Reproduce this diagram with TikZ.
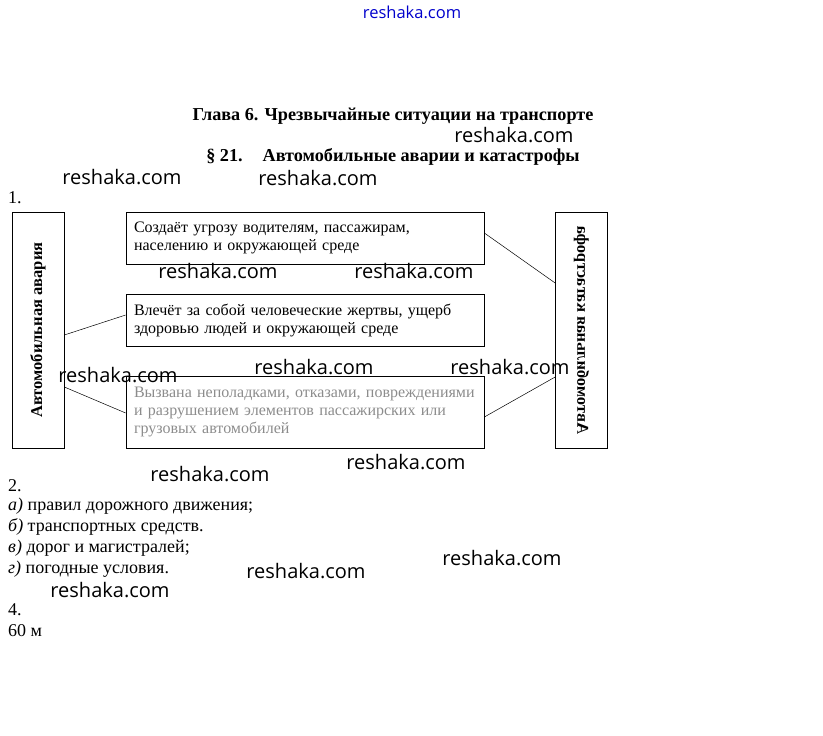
\documentclass[tikz,border=0pt]{standalone}
\usepackage{fontspec}
\setmainfont{Liberation Serif}
\newfontfamily\wmfont{Open Sans}
\usepackage{tikz}

\begin{document}
\begin{tikzpicture}[x=1pt,y=-1pt,
		textbox/.style={draw, line width=0.7pt, minimum width=358pt, text width=342pt, inner xsep=8pt, align=left, font=\fontsize{16}{18}\selectfont},
		sidebox/.style={draw, line width=0.7pt, minimum width=236pt, minimum height=52pt, inner sep=0pt, font=\fontsize{16.5}{20}\selectfont\bfseries},
		plain/.style={anchor=west, inner sep=0pt, font=\fontsize{18}{21}\selectfont},
		wm/.style={inner sep=0pt, font=\wmfont\fontsize{20}{24}\selectfont},
		link/.style={line width=0.5pt}]
		\useasboundingbox (0,0) rectangle (823,736);
		
		\node[inner sep=0pt, text=blue!80!black, font=\wmfont\fontsize{16.5}{18}\selectfont] (site) at (412,12) {reshaka.com};
		\node[inner sep=0pt, font=\fontsize{18.2}{20}\selectfont\bfseries] (glava) at (393,116) {Глава 6. Чрезвычайные ситуации на транспорте};
		\node[inner sep=0pt, font=\fontsize{18.2}{20}\selectfont\bfseries] (par) at (393,157) {§ 21.\hspace{20pt}Автомобильные аварии и катастрофы};
		
		\node[plain] (n1) at (8,198) {1.};
		\node[sidebox, rotate=90] (avaria) at (38,330) {Автомобильная авария};
		\node[sidebox, xscale=-1, rotate=90] (katastrofa) at (581.5,330) {Автомобильная катастрофа};
		\node[textbox, minimum height=52pt] (sozdaet) at (305,238) {Создаёт угрозу водителям, пассажирам,\\населению и окружающей среде};
		\node[textbox, minimum height=52pt] (vlechet) at (305,320) {Влечёт за собой человеческие жертвы, ущерб\\здоровью людей и окружающей среде};
		\node[textbox, minimum height=72pt, text=black!45] (vyzvana) at (305,412) {Вызвана неполадками, отказами, повреждениями\\и разрушением элементов пассажирских или\\грузовых автомобилей};
		
		\draw[link] ([yshift=-5pt]avaria.south) -- ([yshift=5pt]vlechet.west);
		\draw[link] ([yshift=-57pt]avaria.south) -- ([yshift=-1pt]vyzvana.west);
		\draw[link] ([yshift=5pt]sozdaet.east) -- ([yshift=47pt]katastrofa.south);
		\draw[link] ([yshift=-5pt]vyzvana.east) -- ([yshift=-47pt]katastrofa.south);
		
		\node[plain] (n2) at (8,486) {2.};
		\node[plain] (a) at (8,506) {\textit{а)} правил дорожного движения;};
		\node[plain] (b) at (8,527) {\textit{б)} транспортных средств.};
		\node[plain] (v) at (8,548) {\textit{в)} дорог и магистралей;};
		\node[plain] (g) at (8,569) {\textit{г)} погодные условия.};
		\node[plain] (n4) at (8,610) {4.};
		\node[plain] (otvet) at (8,631) {60 м};
		
		\node[wm] (wm1) at (514,135) {reshaka.com};
		\node[wm] (wm2) at (122,177) {reshaka.com};
		\node[wm] (wm3) at (318,178) {reshaka.com};
		\node[wm] (wm4) at (218,271) {reshaka.com};
		\node[wm] (wm5) at (414,271) {reshaka.com};
		\node[wm] (wm6) at (314,367) {reshaka.com};
		\node[wm] (wm7) at (510,367) {reshaka.com};
		\node[wm] (wm8) at (118,375) {reshaka.com};
		\node[wm] (wm9) at (210,474) {reshaka.com};
		\node[wm] (wm10) at (406,462) {reshaka.com};
		\node[wm] (wm11) at (306,571) {reshaka.com};
		\node[wm] (wm12) at (502,558) {reshaka.com};
		\node[wm] (wm13) at (110,590) {reshaka.com};
	\end{tikzpicture}
\end{document}
